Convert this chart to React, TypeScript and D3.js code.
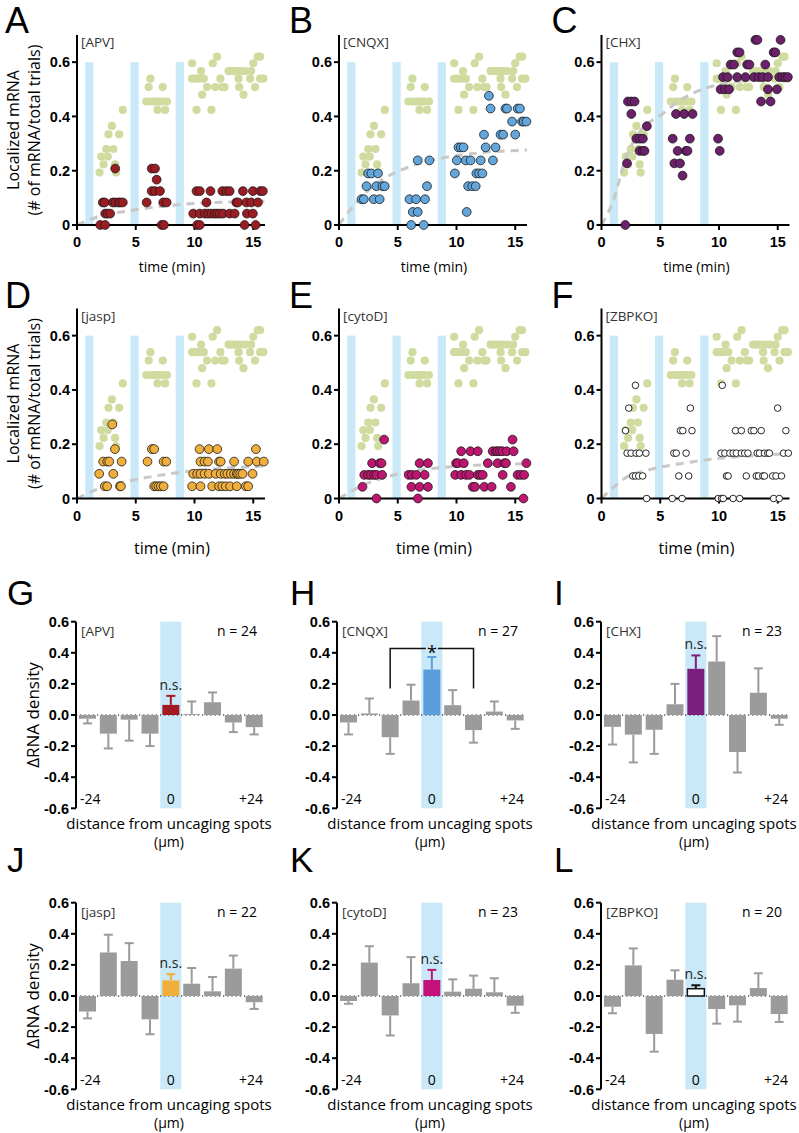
import React from "react";
import * as d3 from "d3";

type Pt = [number, number];
type Lv = [number, number[]];

// ---------- axes / categories ----------
const TIME_TICKS = [0, 5, 10, 15];
const MRNA_TICKS = [0, 0.2, 0.4, 0.6];
const DENSITY_TICKS = [0.6, 0.4, 0.2, 0, -0.2, -0.4, -0.6];
const DISTANCES = [-24, -18, -12, -6, 0, 6, 12, 18, 24];
const UNCAGING_WINDOWS: Pt[] = [[0.7, 1.4], [4.55, 5.25], [8.4, 9.1]];

// ---------- control (light green) localized mRNA, same in every panel ----------
const controlPoints: Pt[] = [
  [1.92, 0.193], [3.33, 0.193], [2.26, 0.223], [3.25, 0.223], [2.06, 0.252], [2.62, 0.252],
  [2.49, 0.28], [3.1, 0.28], [2.68, 0.334], [3.59, 0.334], [2.97, 0.365], [3.9, 0.424],
  [6.25, 0.539], [6.1, 0.508], [7.3, 0.508], [5.9, 0.455], [6.3, 0.455], [6.55, 0.455],
  [6.8, 0.455], [7.0, 0.455], [7.25, 0.455], [7.65, 0.455], [6.85, 0.424], [7.5, 0.424],
  [11.92, 0.62], [15.38, 0.62], [15.58, 0.62],
  [9.8, 0.596], [11.55, 0.596], [15.0, 0.596],
  [10.56, 0.567], [12.9, 0.567], [13.13, 0.567], [13.38, 0.567], [13.61, 0.567], [13.97, 0.567], [14.31, 0.567], [14.82, 0.567],
  [9.8, 0.539], [10.08, 0.539], [10.37, 0.539], [10.79, 0.539], [12.2, 0.539], [13.75, 0.539], [14.73, 0.539], [15.58, 0.539], [15.86, 0.539],
  [11.07, 0.508], [11.77, 0.508], [12.34, 0.508], [12.56, 0.508], [13.8, 0.508], [15.15, 0.508],
  [10.65, 0.48], [14.17, 0.48],
  [10.17, 0.424], [11.44, 0.424],
];

// ---------- treatment localized mRNA: [level, times] ----------
const apvPoints: Lv[] = [
  [0.208, [3.25, 6.36, 6.64]],
  [0.167, [6.78]],
  [0.125, [6.36, 6.64, 7.06, 10.17, 10.45, 11.36, 12.37, 12.71, 12.99, 14.12, 14.97, 15.6, 15.82]],
  [0.083, [2.2, 2.35, 3.05, 3.25, 3.53, 3.67, 3.9, 5.93, 7.34, 7.63, 11.02, 13.56, 13.7, 14.41, 14.83, 15.4]],
  [0.042, [2.4, 2.6, 2.82, 9.89, 10.45, 10.88, 11.16, 11.44, 11.72, 11.92, 12.15, 12.43, 12.99, 13.42, 14.46, 14.97]],
  [0, [1.98, 2.4, 7.2, 7.4, 10.23, 10.45, 14.26, 15.2]],
];
const cnqxPoints: Lv[] = [
  [0.476, [12.76]],
  [0.429, [12.9, 14.17, 14.3, 15.2, 15.4]],
  [0.381, [14.73, 15.58, 15.72, 15.95]],
  [0.333, [12.34, 13.75, 13.97, 15.0]],
  [0.286, [10.17, 10.37, 10.6, 12.48, 13.32]],
  [0.238, [6.7, 7.69, 10.03, 10.79, 11.2, 12.06, 13.1]],
  [0.19, [2.48, 2.76, 3.32, 9.86, 11.69, 11.92, 12.2]],
  [0.143, [2.34, 3.18, 3.7, 3.89, 7.49, 10.99, 11.35, 11.63]],
  [0.095, [1.92, 2.11, 2.96, 3.46, 6.0, 6.56, 7.32]],
  [0.048, [6.28, 6.7, 10.87]],
  [0, [6.14, 7.21]],
];
const chxPoints: Lv[] = [
  [0.682, [13.1, 13.27, 15.24]],
  [0.636, [11.55, 11.75, 14.65, 14.79]],
  [0.591, [10.99, 11.27, 12.39, 12.59, 13.94]],
  [0.545, [10.34, 10.73, 11.55, 12.25, 12.99, 13.38, 13.72, 14.17, 15.13, 15.41, 15.63, 15.86]],
  [0.5, [10.14, 10.51, 10.85, 14.17, 14.93]],
  [0.455, [2.25, 2.54, 2.82, 13.58, 14.39]],
  [0.409, [2.54, 6.34, 7.04, 7.75]],
  [0.364, [3.86]],
  [0.318, [2.96, 3.24, 3.52, 6.06, 7.52, 9.92]],
  [0.273, [3.24, 3.52, 3.66, 6.48, 7.18, 7.32, 10.06]],
  [0.227, [2.17, 6.2, 6.68]],
  [0.182, [6.9]],
  [0, [2.03]],
];
const jaspPoints: Lv[] = [
  [0.273, [3.0]],
  [0.182, [3.23, 6.37, 6.57, 10.43, 11.23, 11.94, 15.23]],
  [0.136, [2.23, 2.57, 2.74, 3.8, 6.0, 7.37, 7.6, 10.51, 10.86, 11.14, 12.09, 12.23, 13.37, 14.57, 15.31, 15.9]],
  [0.091, [1.89, 3.09, 9.89, 10.23, 10.51, 10.86, 11.23, 11.8, 12.23, 12.57, 12.8, 13.09, 13.37, 13.6, 13.71, 13.89, 14.09, 14.94]],
  [0.045, [2.37, 2.57, 3.66, 3.74, 6.57, 6.74, 6.94, 7.14, 7.37, 9.8, 10.51, 11.51, 12.09, 12.37, 12.66, 13.03, 13.6, 14.37, 14.57]],
];
const cytodPoints: Lv[] = [
  [0.217, [3.84, 14.77]],
  [0.174, [10.4, 11.19, 11.81, 13.08, 13.36, 13.5, 13.7, 13.9, 14.27, 14.86]],
  [0.13, [2.82, 3.47, 3.62, 6.86, 7.57, 9.97, 10.11, 10.62, 12.66, 13.5, 14.07, 14.21, 15.95]],
  [0.087, [2.15, 2.49, 2.71, 2.99, 3.19, 3.67, 5.93, 6.21, 6.58, 7.29, 9.89, 10.4, 10.82, 11.1, 11.81, 12.03, 12.23, 13.93, 15.2, 15.48, 15.76]],
  [0.043, [2.0, 6.16, 6.86, 7.57, 11.38, 11.58, 12.37, 12.99, 14.63]],
  [0, [3.19, 6.72, 15.7]],
];
const zbpkoPoints: Lv[] = [
  [0.417, [2.89, 10.28]],
  [0.333, [2.32, 7.56, 14.99]],
  [0.25, [2.04, 6.72, 6.92, 7.7, 11.4, 11.9, 12.75, 12.97, 13.59, 15.69]],
  [0.167, [2.18, 2.52, 2.94, 3.22, 3.78, 6.16, 6.36, 7.2, 10.17, 10.5, 10.92, 11.2, 11.48, 11.9, 12.18, 12.46, 13.25, 13.45, 13.87, 14.15, 14.29, 15.49, 15.9]],
  [0.083, [2.66, 2.89, 3.17, 3.5, 6.58, 7.42, 10.64, 10.78, 12.32, 13.17, 13.36, 13.73, 13.87, 14.57, 14.85, 15.32]],
  [0, [3.84, 6.02, 6.86, 9.94, 10.22, 10.36, 11.2, 11.76, 14.65, 15.13]],
];

// ---------- fitted curves (dashed gray) ----------
const apvFit: Pt[] = [[0, 0], [1, 0.018], [2, 0.033], [3.5, 0.046], [5, 0.056], [7, 0.068], [9, 0.076], [11, 0.082], [13, 0.085], [16, 0.088]];
const cnqxFit: Pt[] = [[0, 0], [0.5, 0.03], [2.2, 0.116], [3.6, 0.165], [5.6, 0.208], [9.2, 0.25], [12, 0.266], [16, 0.276]];
const chxFit: Pt[] = [[0, 0], [1, 0.09], [2.1, 0.25], [3.2, 0.34], [5.2, 0.41], [6.7, 0.46], [8.6, 0.5], [10.3, 0.52], [13, 0.535], [16, 0.545]];
const jaspFit: Pt[] = [[0, 0], [1.9, 0.037], [4.8, 0.068], [7.7, 0.09], [10.5, 0.105], [13, 0.113], [16, 0.12]];
const cytodFit: Pt[] = [[0, 0], [2.1, 0.05], [5, 0.09], [7.8, 0.11], [10.6, 0.12], [13, 0.125], [16, 0.128]];
const zbpkoFit: Pt[] = [[0, 0], [1, 0.04], [2, 0.075], [4, 0.105], [7, 0.13], [10, 0.148], [13, 0.158], [16, 0.165]];

// ---------- ΔRNA density bars (mean, sem) ----------
const apvMean = [-0.024, -0.12, -0.03, -0.12, 0.065, 0.005, 0.082, -0.048, -0.078];
const apvSem = [0.03, 0.095, 0.135, 0.08, 0.058, 0.082, 0.063, 0.062, 0.047];
const cnqxMean = [-0.048, 0.01, -0.143, 0.093, 0.292, 0.063, -0.097, 0.022, -0.035];
const cnqxSem = [0.077, 0.096, 0.107, 0.102, 0.081, 0.097, 0.081, 0.065, 0.054];
const chxMean = [-0.076, -0.126, -0.095, 0.069, 0.297, 0.344, -0.238, 0.143, -0.024];
const chxSem = [0.114, 0.179, 0.155, 0.131, 0.086, 0.163, 0.132, 0.157, 0.039];
const jaspMean = [-0.1, 0.28, 0.225, -0.15, 0.1, 0.079, 0.03, 0.176, -0.04];
const jaspSem = [0.044, 0.114, 0.115, 0.096, 0.04, 0.101, 0.092, 0.084, 0.043];
const cytodMean = [-0.032, 0.215, -0.125, 0.082, 0.103, 0.028, 0.047, 0.024, -0.062];
const cytodSem = [0.018, 0.105, 0.129, 0.168, 0.065, 0.079, 0.084, 0.09, 0.046];
const zbpkoMean = [-0.069, 0.197, -0.244, 0.105, 0.047, -0.084, -0.06, 0.051, -0.116];
const zbpkoSem = [0.042, 0.109, 0.114, 0.06, 0.022, 0.094, 0.105, 0.095, 0.051];
const nValues = [24, 27, 23, 22, 23, 20];
const conditions = ["[APV]", "[CNQX]", "[CHX]", "[jasp]", "[cytoD]", "[ZBPKO]"];

// ---------- styles ----------
const BAND = "#c9e9f8";
const GREEN = "#cfdb9f";
const GRAY = "#9b9b9b";
const SANS = "'Open Sans', 'Noto Sans', sans-serif";
const HEL = "'Liberation Sans', Arial, sans-serif";

const expand = (lv: Lv[]): Pt[] => lv.flatMap(([v, ts]) => ts.map((t) => [t, v] as Pt));

const COLS = [77, 339, 601.5];

type ScatterCfg = {
  letter: string; col: number; zy: number; cond: string; pts: Lv[]; fit: Pt[];
  fill: string; hollow?: boolean; yTitle?: boolean; timeY: number; timeSize: number; letterY: number;
};

const scatterPanels: ScatterCfg[] = [
  { letter: "A", col: 0, zy: 225, cond: conditions[0], pts: apvPoints, fit: apvFit, fill: "#9c1c23", yTitle: true, timeY: 272, timeSize: 14, letterY: 33 },
  { letter: "B", col: 1, zy: 225, cond: conditions[1], pts: cnqxPoints, fit: cnqxFit, fill: "#62a6dc", timeY: 272, timeSize: 14, letterY: 33 },
  { letter: "C", col: 2, zy: 225, cond: conditions[2], pts: chxPoints, fit: chxFit, fill: "#6c1f6a", timeY: 272, timeSize: 14, letterY: 33 },
  { letter: "D", col: 0, zy: 498.5, cond: conditions[3], pts: jaspPoints, fit: jaspFit, fill: "#f0ae3c", yTitle: true, timeY: 554, timeSize: 16, letterY: 308 },
  { letter: "E", col: 1, zy: 498.5, cond: conditions[4], pts: cytodPoints, fit: cytodFit, fill: "#be1570", timeY: 554, timeSize: 16, letterY: 308 },
  { letter: "F", col: 2, zy: 498.5, cond: conditions[5], pts: zbpkoPoints, fit: zbpkoFit, fill: "#ffffff", hollow: true, timeY: 554, timeSize: 16, letterY: 308 },
];

function ScatterPanel({ p }: { p: ScatterCfg }) {
  const ax = COLS[p.col];
  const x = d3.scaleLinear().domain([0, 16]).range([ax, ax + 188]);
  const y = d3.scaleLinear().domain([0, 0.7]).range([p.zy, p.zy - 190]);
  const line = d3.line<Pt>().x((d) => x(d[0])).y((d) => y(d[1])).curve(d3.curveMonotoneX);
  const pts = expand(p.pts);
  const letterX = p.col === 0 ? 5 : ax - 50;
  return (
    <g>
      <text x={letterX} y={p.letterY} fontFamily={HEL} fontSize={36}>{p.letter}</text>
      {UNCAGING_WINDOWS.map(([a, b], i) => (
        <rect key={i} x={x(a)} y={y(0.6)} width={x(b) - x(a)} height={y(0) - y(0.6)} fill={BAND} />
      ))}
      {controlPoints.map(([t, v], i) => (
        <circle key={i} cx={x(t)} cy={y(v)} r={4.1} fill={GREEN} />
      ))}
      <path d={line(p.fit) || ""} fill="none" stroke="#c8c8c8" strokeWidth={3} strokeDasharray="8 6" />
      {/* axes */}
      <line x1={ax} x2={ax} y1={y(0)} y2={y(0.7)} stroke="#000" strokeWidth={2} />
      <line x1={ax} x2={x(16)} y1={y(0)} y2={y(0)} stroke="#000" strokeWidth={2} />
      {MRNA_TICKS.map((v) => (
        <g key={v}>
          <line x1={ax - 5} x2={ax} y1={y(v)} y2={y(v)} stroke="#000" strokeWidth={2} />
          <text x={ax - 7} y={y(v)} dy="0.36em" textAnchor="end" fontFamily={HEL} fontWeight="bold" fontSize={14.5}>
            {v === 0 ? "0" : v.toFixed(1)}
          </text>
        </g>
      ))}
      {TIME_TICKS.map((t) => (
        <g key={t}>
          <line x1={x(t)} x2={x(t)} y1={y(0)} y2={y(0) + 5} stroke="#000" strokeWidth={2} />
          <text x={x(t)} y={y(0) + 22} textAnchor="middle" fontFamily={HEL} fontWeight="bold" fontSize={14.5}>{t}</text>
        </g>
      ))}
      {pts.map(([t, v], i) =>
        p.hollow ? (
          <circle key={i} cx={x(t)} cy={y(v)} r={3.3} fill="#fff" stroke="#111" strokeWidth={0.9} />
        ) : (
          <circle key={i} cx={x(t)} cy={y(v)} r={4.4} fill={p.fill} stroke="#1a1a1a" strokeWidth={0.8} />
        )
      )}
      <text x={ax + 4} y={p.zy - 178} fontFamily={SANS} fontSize={13.5} fill="#333">{p.cond}</text>
      <text x={ax + 95} y={p.timeY} textAnchor="middle" fontFamily={SANS} fontSize={p.timeSize}>time (min)</text>
      {p.yTitle && (
        <g>
          <text transform={`translate(13,${p.zy - 95}) rotate(-90)`} textAnchor="middle" dy="0.35em" fontFamily={SANS} fontSize={16}>Localized mRNA</text>
          <text transform={`translate(34,${p.zy - 95}) rotate(-90)`} textAnchor="middle" dy="0.35em" fontFamily={SANS} fontSize={16}>(# of mRNA/total trials)</text>
        </g>
      )}
    </g>
  );
}

type BarCfg = {
  letter: string; col: number; zy: number; idx: number; mean: number[]; sem: number[];
  fill: string; stroke?: string; bracket?: boolean; yTitle?: boolean; letterY: number;
};

const barPanels: BarCfg[] = [
  { letter: "G", col: 0, zy: 715, idx: 0, mean: apvMean, sem: apvSem, fill: "#a31a22", yTitle: true, letterY: 605 },
  { letter: "H", col: 1, zy: 715, idx: 1, mean: cnqxMean, sem: cnqxSem, fill: "#5b9ddb", bracket: true, letterY: 605 },
  { letter: "I", col: 2, zy: 715, idx: 2, mean: chxMean, sem: chxSem, fill: "#7a1f7b", letterY: 605 },
  { letter: "J", col: 0, zy: 996, idx: 3, mean: jaspMean, sem: jaspSem, fill: "#f0ae3a", yTitle: true, letterY: 872 },
  { letter: "K", col: 1, zy: 996, idx: 4, mean: cytodMean, sem: cytodSem, fill: "#c4117a", letterY: 872 },
  { letter: "L", col: 2, zy: 996, idx: 5, mean: zbpkoMean, sem: zbpkoSem, fill: "#ffffff", stroke: "#111", letterY: 872 },
];

function BarPanel({ p }: { p: BarCfg }) {
  const ax = [76, 337, 601][p.col];
  const x = d3.scaleLinear().domain([-24, 24]).range([ax + 11.5, ax + 178.2]);
  const y = d3.scaleLinear().domain([-0.6, 0.6]).range([p.zy + 93.3, p.zy - 93.3]);
  const bw = 17;
  const cap = 4.5;
  const letterX = p.col === 0 ? 7 : ax - 47;
  const ci = DISTANCES.indexOf(0);
  const hlTip = p.mean[ci] + p.sem[ci];
  return (
    <g>
      <text x={letterX} y={p.letterY} fontFamily={HEL} fontSize={35}>{p.letter}</text>
      <rect x={x(0) - 10.6} width={21.2} y={y(0.6)} height={y(-0.6) - y(0.6)} fill={BAND} />
      <line x1={ax} x2={ax + 188} y1={y(0)} y2={y(0)} stroke="#000" strokeWidth={1.2} strokeDasharray="1.2 3" />
      {DISTANCES.map((d, i) => {
        const m = p.mean[i];
        const s = p.sem[i];
        const hl = d === 0;
        const col = hl ? p.fill : GRAY;
        const ecol = hl ? (p.stroke || p.fill) : GRAY;
        const tip = m >= 0 ? m + s : m - s;
        return (
          <g key={d}>
            <line x1={x(d)} x2={x(d)} y1={y(m)} y2={y(tip)} stroke={ecol} strokeWidth={2} />
            <line x1={x(d) - cap} x2={x(d) + cap} y1={y(tip)} y2={y(tip)} stroke={ecol} strokeWidth={2} />
            <rect x={x(d) - bw / 2} width={bw} y={Math.min(y(0), y(m))} height={Math.abs(y(m) - y(0))}
              fill={col} stroke={hl && p.stroke ? p.stroke : "none"} strokeWidth={1.5} />
          </g>
        );
      })}
      {/* y axis */}
      <line x1={ax} x2={ax} y1={y(0.6)} y2={y(-0.6)} stroke="#000" strokeWidth={2} />
      {DENSITY_TICKS.map((v) => (
        <g key={v}>
          <line x1={ax - 5} x2={ax} y1={y(v)} y2={y(v)} stroke="#000" strokeWidth={2} />
          <text x={ax - 7} y={y(v)} dy="0.36em" textAnchor="end" fontFamily={HEL} fontWeight="bold" fontSize={14.5}>
            {v.toFixed(1)}
          </text>
        </g>
      ))}
      <text x={ax + 5} y={y(0.6) + 14} fontFamily={SANS} fontSize={13.5} fill="#333">{conditions[p.idx]}</text>
      <text x={ax + 181} y={y(0.6) + 14} textAnchor="end" fontFamily={SANS} fontSize={14}>n = {nValues[p.idx]}</text>
      <text x={ax + 4} y={y(-0.6) - 4} fontFamily={SANS} fontSize={14}>-24</text>
      <text x={x(0)} y={y(-0.6) - 4} textAnchor="middle" fontFamily={SANS} fontSize={14}>0</text>
      <text x={ax + 187} y={y(-0.6) - 4} textAnchor="end" fontFamily={SANS} fontSize={14}>+24</text>
      {p.bracket ? (
        <g>
          <path d={`M${x(-12)},${y(0.17)}V${y(0.427)}H${x(12)}V${y(0.17)}`} fill="none" stroke="#111" strokeWidth={1.5} />
          <rect x={x(0) - 6} y={y(0.427) - 4} width={12} height={8} fill={BAND} />
          <text x={x(0)} y={y(0.427) + 10} textAnchor="middle" fontFamily={SANS} fontSize={18}>*</text>
        </g>
      ) : (
        <text x={x(0)} y={y(hlTip) - 6} textAnchor="middle" fontFamily={SANS} fontSize={14} fill="#222">n.s.</text>
      )}
      <text x={ax + 93} y={y(-0.6) + 21} textAnchor="middle" fontFamily={SANS} fontSize={15}>distance from uncaging spots</text>
      <text x={ax + 93} y={y(-0.6) + 39} textAnchor="middle" fontFamily={SANS} fontSize={14}>(µm)</text>
      {p.yTitle && (
        <text transform={`translate(33,${p.zy}) rotate(-90)`} textAnchor="middle" dy="0.35em" fontFamily={SANS} fontSize={17}>ΔRNA density</text>
      )}
    </g>
  );
}

export default function App() {
  return (
    <svg width={799} height={1133} style={{ position: "absolute", left: 0, top: 0, background: "#fff" }}>
      <rect width={799} height={1133} fill="#fff" />
      {scatterPanels.map((p) => <ScatterPanel key={p.letter} p={p} />)}
      {barPanels.map((p) => <BarPanel key={p.letter} p={p} />)}
    </svg>
  );
}
